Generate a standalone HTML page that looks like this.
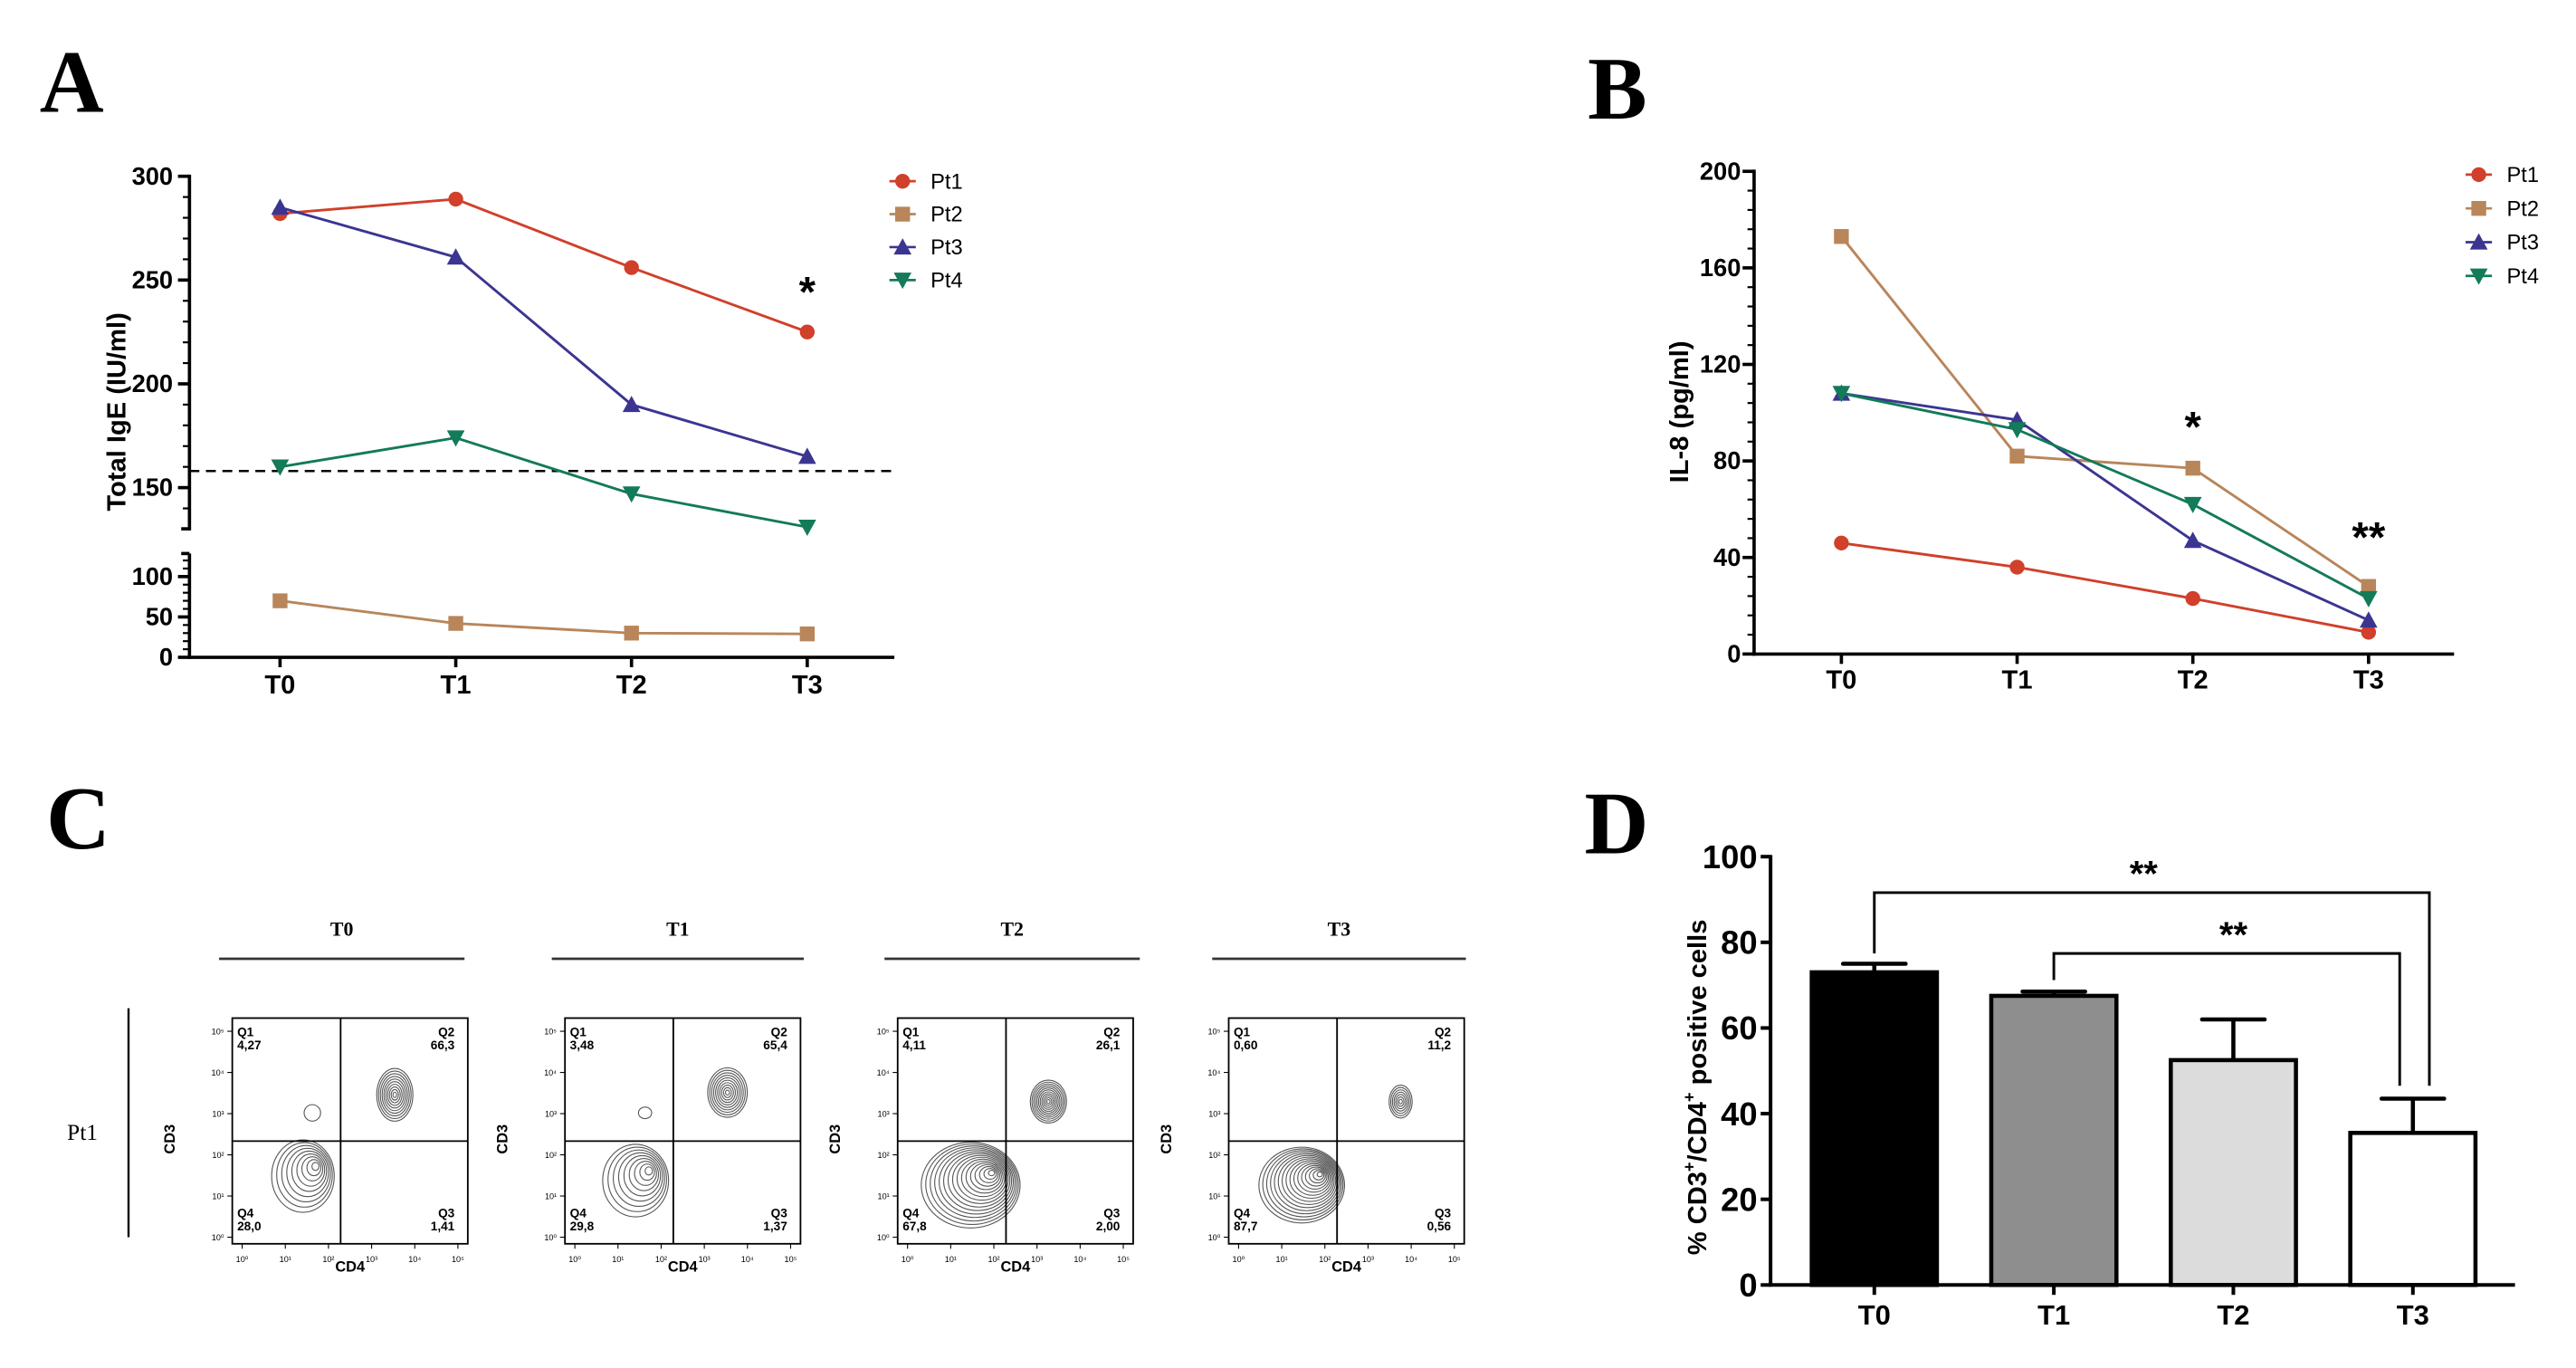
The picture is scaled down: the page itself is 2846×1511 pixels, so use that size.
<!DOCTYPE html>
<html><head><meta charset="utf-8"><style>
html,body{margin:0;padding:0;background:#fff;}
svg{display:block;}
text{font-family:"Liberation Sans",sans-serif;}
.serif{font-family:"Liberation Serif",serif;}
</style></head><body>
<svg id="fig" width="2846" height="1511" viewBox="0 0 1564 830.4" xmlns="http://www.w3.org/2000/svg">
<g id="gA"></g>
<g id="gB"></g>
<g id="gC"></g>
<g id="gD"></g>
</svg>
<script>
// ---- data ----
const timepoints = ["T0","T1","T2","T3"];
const patients = ["Pt1","Pt2","Pt3","Pt4"];
const colors = ["#d0402a","#b8865a","#3b3591","#137a5a"];
const markers = ["circle","square","up","down"];
const igePt1 = [282,289,256,225];
const igePt2 = [70,42,30,29];
const igePt3 = [285,261,190,165];
const igePt4 = [160,174,147,131];
const igeThreshold = 158;
const il8Pt1 = [46,36,23,9];
const il8Pt2 = [173,82,77,28];
const il8Pt3 = [108,97,47,14];
const il8Pt4 = [108,93,62,23];
const cd4Means = [73,67.5,52.5,35.5];
const cd4Err = [75,68.5,62,43.5];
const barFills = ["#000000","#8e8e8e","#dcdcdc","#ffffff"];
const flowQ1 = ["4,27","3,48","4,11","0,60"];
const flowQ2 = ["66,3","65,4","26,1","11,2"];
const flowQ3 = ["1,41","1,37","2,00","0,56"];
const flowQ4 = ["28,0","29,8","67,8","87,7"];

const NS="http://www.w3.org/2000/svg";
function mk(parent,tag,attrs,txt){const e=document.createElementNS(NS,tag);for(const k in attrs)e.setAttribute(k,attrs[k]);if(txt!==undefined)e.textContent=txt;parent.appendChild(e);return e;}

function marker(g,type,x,y,c,s){
  let e;
  if(type==="circle") e=mk(g,"circle",{cx:x,cy:y,r:s,fill:c});
  else if(type==="square") e=mk(g,"rect",{x:x-s,y:y-s,width:2*s,height:2*s,fill:c});
  else if(type==="up") e=mk(g,"polygon",{points:`${x},${y-s*1.2} ${x-s*1.2},${y+s} ${x+s*1.2},${y+s}`,fill:c});
  else e=mk(g,"polygon",{points:`${x},${y+s*1.2} ${x-s*1.2},${y-s} ${x+s*1.2},${y-s}`,fill:c});
  return e;
}
function panelLetter(g,ch,x,y){const t=mk(g,"text",{x:x,y:y,"font-size":54,"font-weight":"bold",class:"serif"},ch);

}
function legend(g,x0,y0,dy){
  patients.forEach((p,i)=>{
    const y=y0+i*dy;
    const lg=mk(g,"g",{});
    
    
    mk(lg,"line",{x1:x0-8,x2:x0+8,y1:y,y2:y,stroke:colors[i],"stroke-width":1.5});
    marker(lg,markers[i],x0,y,colors[i],4.5);
    mk(lg,"text",{x:x0+17,y:y+4.5,"font-size":13},p);
  });
}
function series(g,xs,ys,ci){
  const sg=mk(g,"g",{});
  
  
  mk(sg,"polyline",{points:xs.map((x,i)=>x+","+ys[i]).join(" "),fill:"none",stroke:colors[ci],"stroke-width":1.6});
  xs.forEach((x,i)=>{const m=marker(sg,markers[ci],x,ys[i],colors[ci],4.5);
    
    });
}

// ---- Panel A ----
(function(){
  const g=document.getElementById("gA");
  panelLetter(g,"A",24,68);
  const xT=i=>170+i*106.7;
  const yU=v=>296-(v-150)*63/50;
  const yL=v=>399-v*0.49;
  const ax=mk(g,"g",{stroke:"#000","stroke-width":2,fill:"none"});
  
  
  mk(ax,"line",{x1:115,x2:115,y1:106,y2:322});
  mk(ax,"line",{x1:115,x2:115,y1:336,y2:400});
  mk(ax,"line",{x1:114,x2:543,y1:399,y2:399});
  for(let v=130;v<=300;v+=10){mk(ax,"line",{x1:111,x2:115,y1:yU(v),y2:yU(v),"stroke-width":1.2});}
  [150,200,250,300].forEach(v=>{mk(ax,"line",{x1:108,x2:115,y1:yU(v),y2:yU(v)});
    mk(g,"text",{x:105,y:yU(v)+5,"font-size":15,"font-weight":"bold","text-anchor":"end"},v);});
  mk(ax,"line",{x1:110,x2:115,y1:321,y2:321});
  for(let v=0;v<=120;v+=10){mk(ax,"line",{x1:111,x2:115,y1:yL(v),y2:yL(v),"stroke-width":1.2});}
  mk(ax,"line",{x1:110,x2:115,y1:336,y2:336});
  [0,50,100].forEach(v=>{mk(ax,"line",{x1:108,x2:115,y1:yL(v),y2:yL(v)});
    mk(g,"text",{x:105,y:yL(v)+5,"font-size":15,"font-weight":"bold","text-anchor":"end"},v);});
  timepoints.forEach((t,i)=>{mk(ax,"line",{x1:xT(i),x2:xT(i),y1:399,y2:405});
    const lt=mk(g,"text",{x:xT(i),y:421,"font-size":16,"font-weight":"bold","text-anchor":"middle"},t);
    
    });
  const yt=mk(g,"text",{x:0,y:0,"font-size":16,"font-weight":"bold","text-anchor":"middle",transform:"translate(76,250) rotate(-90)"},"Total IgE (IU/ml)");
  
  
  const th=mk(g,"line",{x1:115,x2:543,y1:yU(igeThreshold),y2:yU(igeThreshold),stroke:"#000","stroke-width":1.4,"stroke-dasharray":"6,4"});
  
  
  const xs=timepoints.map((t,i)=>xT(i));
  series(g,xs,igePt1.map(yU),0);
  series(g,xs,igePt2.map(yL),1);
  series(g,xs,igePt3.map(yU),2);
  series(g,xs,igePt4.map(yU),3);
  mk(g,"text",{x:xT(3),y:186,"font-size":26,"font-weight":"bold","text-anchor":"middle"},"*");
  legend(g,548,110,20);
})();

// ---- Panel B ----
(function(){
  const g=document.getElementById("gB");
  panelLetter(g,"B",964,72);
  const xT=i=>1118+i*106.7;
  const y=v=>397-v*293/200;
  const ax=mk(g,"g",{stroke:"#000","stroke-width":2,fill:"none"});
  
  
  mk(ax,"line",{x1:1065,x2:1065,y1:103,y2:398});
  mk(ax,"line",{x1:1064,x2:1490,y1:397,y2:397});
  for(let v=0;v<=200;v+=8){mk(ax,"line",{x1:1061,x2:1065,y1:y(v),y2:y(v),"stroke-width":1.2});}
  [0,40,80,120,160,200].forEach(v=>{mk(ax,"line",{x1:1058,x2:1065,y1:y(v),y2:y(v)});
    mk(g,"text",{x:1057,y:y(v)+5,"font-size":15,"font-weight":"bold","text-anchor":"end"},v);});
  timepoints.forEach((t,i)=>{mk(ax,"line",{x1:xT(i),x2:xT(i),y1:397,y2:403});
    const lt=mk(g,"text",{x:xT(i),y:418,"font-size":16,"font-weight":"bold","text-anchor":"middle"},t);
    
    });
  const yt=mk(g,"text",{x:0,y:0,"font-size":16,"font-weight":"bold","text-anchor":"middle",transform:"translate(1025,250) rotate(-90)"},"IL-8 (pg/ml)");
  
  
  const xs=timepoints.map((t,i)=>xT(i));
  series(g,xs,il8Pt1.map(y),0);
  series(g,xs,il8Pt2.map(y),1);
  series(g,xs,il8Pt3.map(y),2);
  series(g,xs,il8Pt4.map(y),3);
  mk(g,"text",{x:xT(2),y:268,"font-size":26,"font-weight":"bold","text-anchor":"middle"},"*");
  mk(g,"text",{x:xT(3),y:335,"font-size":26,"font-weight":"bold","text-anchor":"middle"},"**");
  legend(g,1505,106,20.5);
})();

// ---- Panel C ----
(function(){
  const g=document.getElementById("gC");
  panelLetter(g,"C",28,515);
  const boxX=[141,343,545,746], bw=143, by=618, bh=137;
  const hdrX=[[133,282],[335,488],[537,692],[736,890]];
  const pt=mk(g,"text",{x:50,y:692,"font-size":14,class:"serif","text-anchor":"middle"},"Pt1");
  
  
  mk(g,"line",{x1:78,x2:78,y1:612,y2:751,stroke:"#000","stroke-width":1.3});
  const pos=[[0.69,0.34,11,16,10],[0.69,0.33,12,15,10],[0.64,0.37,11,13,11],[0.73,0.37,7,10,7]];
  const neg=[[0.30,0.70,19,22,9],[0.30,0.72,20,22,9],[0.31,0.74,30,26,16],[0.31,0.74,26,23,16]];
  const q1blob=[[0.34,0.42,5,5],[0.34,0.42,4,3.5],null,null];
  timepoints.forEach((t,i)=>{
    const pg=mk(g,"g",{});
    
    
    const [h1,h2]=hdrX[i];
    mk(pg,"text",{x:(h1+h2)/2,y:568,"font-size":12,"font-weight":"bold",class:"serif","text-anchor":"middle"},t);
    mk(pg,"line",{x1:h1,x2:h2,y1:582,y2:582,stroke:"#333","stroke-width":1.5});
    const x0=boxX[i];
    mk(pg,"rect",{x:x0,y:by,width:bw,height:bh,fill:"none",stroke:"#000","stroke-width":1});
    const qx=x0+bw*0.46, qy=by+bh*0.545;
    [pos[i],neg[i]].forEach((p,k)=>{
      const cx=x0+bw*p[0], cy=by+bh*p[1];
      for(let j=0;j<p[4];j++){const f=1-j/p[4];
        mk(pg,"ellipse",{cx:cx+(k?(1-f)*p[2]*0.45:0),cy:cy-(k?(1-f)*p[3]*0.3:0),rx:p[2]*f,ry:p[3]*f,fill:"none",stroke:"#555","stroke-width":0.6});}
    });
    if(q1blob[i]){const b=q1blob[i];mk(pg,"ellipse",{cx:x0+bw*b[0],cy:by+bh*b[1],rx:b[2],ry:b[3],fill:"none",stroke:"#555","stroke-width":0.6});}
    mk(pg,"line",{x1:qx,x2:qx,y1:by,y2:by+bh,stroke:"#000","stroke-width":1});
    mk(pg,"line",{x1:x0,x2:x0+bw,y1:qy,y2:qy,stroke:"#000","stroke-width":1});
    const fs=7.5;
    mk(pg,"text",{x:x0+3,y:by+11,"font-size":fs,"font-weight":"bold"},"Q1");
    mk(pg,"text",{x:x0+3,y:by+19,"font-size":fs,"font-weight":"bold"},flowQ1[i]);
    mk(pg,"text",{x:x0+bw-8,y:by+11,"font-size":fs,"font-weight":"bold","text-anchor":"end"},"Q2");
    mk(pg,"text",{x:x0+bw-8,y:by+19,"font-size":fs,"font-weight":"bold","text-anchor":"end"},flowQ2[i]);
    mk(pg,"text",{x:x0+3,y:by+bh-16,"font-size":fs,"font-weight":"bold"},"Q4");
    mk(pg,"text",{x:x0+3,y:by+bh-8,"font-size":fs,"font-weight":"bold"},flowQ4[i]);
    mk(pg,"text",{x:x0+bw-8,y:by+bh-16,"font-size":fs,"font-weight":"bold","text-anchor":"end"},"Q3");
    mk(pg,"text",{x:x0+bw-8,y:by+bh-8,"font-size":fs,"font-weight":"bold","text-anchor":"end"},flowQ3[i]);
    for(let d=0;d<=5;d++){
      const tx=x0+6+d*(bw-12)/5, ty=by+bh-4-d*(bh-12)/5;
      mk(pg,"line",{x1:tx,x2:tx,y1:by+bh,y2:by+bh+3,stroke:"#000","stroke-width":0.6});
      mk(pg,"text",{x:tx,y:by+bh+11,"font-size":5,"text-anchor":"middle"},"10"+["⁰","¹","²","³","⁴","⁵"][d]);
      mk(pg,"line",{x1:x0-3,x2:x0,y1:ty,y2:ty,stroke:"#000","stroke-width":0.6});
      mk(pg,"text",{x:x0-5,y:ty+2,"font-size":5,"text-anchor":"end"},"10"+["⁰","¹","²","³","⁴","⁵"][d]);
    }
    mk(pg,"text",{x:x0+bw/2,y:by+bh+17,"font-size":9,"font-weight":"bold","text-anchor":"middle"},"CD4");
    mk(pg,"text",{x:0,y:0,"font-size":9,"font-weight":"bold","text-anchor":"middle",transform:`translate(${x0-35},${by+bh/2+5}) rotate(-90)`},"CD3");
  });
})();

// ---- Panel D ----
(function(){
  const g=document.getElementById("gD");
  panelLetter(g,"D",962,518);
  const xT=i=>1138+i*109;
  const y=v=>780-v*2.6;
  const bw=76;
  const ax=mk(g,"g",{stroke:"#000","stroke-width":2.2,fill:"none"});
  
  
  mk(ax,"line",{x1:1075,x2:1075,y1:519,y2:781});
  mk(ax,"line",{x1:1074,x2:1527,y1:780,y2:780});
  [0,20,40,60,80,100].forEach(v=>{mk(ax,"line",{x1:1069,x2:1075,y1:y(v),y2:y(v)});
    mk(g,"text",{x:1067,y:y(v)+7,"font-size":20,"font-weight":"bold","text-anchor":"end"},v);});
  timepoints.forEach((t,i)=>{
    mk(ax,"line",{x1:xT(i),x2:xT(i),y1:780,y2:786});
    const lt=mk(g,"text",{x:xT(i),y:804,"font-size":17,"font-weight":"bold","text-anchor":"middle"},t);
    
    
    const eb=mk(g,"g",{stroke:"#000","stroke-width":2.5});
    
    
    mk(eb,"line",{x1:xT(i),x2:xT(i),y1:y(cd4Means[i]),y2:y(cd4Err[i])});
    mk(eb,"line",{x1:xT(i)-19,x2:xT(i)+19,y1:y(cd4Err[i]),y2:y(cd4Err[i]),"stroke-linecap":"round"});
    const b=mk(g,"rect",{x:xT(i)-bw/2,y:y(cd4Means[i]),width:bw,height:780-y(cd4Means[i]),fill:barFills[i],stroke:"#000","stroke-width":2.5});
    
    
  });
  const yt=mk(g,"text",{x:0,y:0,"font-size":16,"font-weight":"bold","text-anchor":"middle",transform:"translate(1036,660) rotate(-90)"});
  
  
  yt.innerHTML='% CD3<tspan dy="-7" font-size="10">+</tspan><tspan dy="7">/CD4</tspan><tspan dy="-7" font-size="10">+</tspan><tspan dy="7"> positive cells</tspan>';
  const br=mk(g,"g",{stroke:"#000","stroke-width":1.6,fill:"none"});
  
  
  mk(br,"polyline",{points:`${xT(0)},${y(77.4)} ${xT(0)},${y(91.6)} ${xT(3)+10},${y(91.6)} ${xT(3)+10},${y(46.5)}`});
  mk(br,"polyline",{points:`${xT(1)},${y(71.2)} ${xT(1)},${y(77.4)} ${xT(3)-8},${y(77.4)} ${xT(3)-8},${y(46.5)}`});
  mk(g,"text",{x:(xT(0)+xT(3))/2,y:y(91.6)-4,"font-size":22,"font-weight":"bold","text-anchor":"middle"},"**");
  mk(g,"text",{x:(xT(1)+xT(3))/2,y:y(77.4)-4,"font-size":22,"font-weight":"bold","text-anchor":"middle"},"**");
})();
</script>
</body></html>
